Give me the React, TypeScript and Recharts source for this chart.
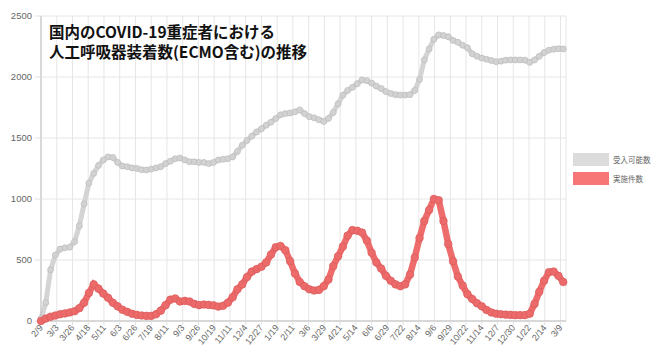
import React from 'react'
import { LineChart, Line, XAxis, YAxis, CartesianGrid } from 'recharts'

// x-axis tick labels, one every 23 days starting 2020/2/9
const TICK_LABELS = [
  '2/9', '3/3', '3/26', '4/18', '5/11', '6/3', '6/26', '7/19', '8/11', '9/3', '9/26', '10/19',
  '11/11', '12/4', '12/27', '1/19', '2/11', '3/6', '3/29', '4/21', '5/14', '6/6', '6/29', '7/22',
  '8/14', '9/6', '9/29', '10/22', '11/14', '12/7', '12/30', '1/22', '2/14', '3/9',
]
const TICK_STEP_DAYS = 23
const SAMPLE_STEP_DAYS = 7
const LAST_DAY = 767

const SERIES_NAMES = ['受入可能数', '実施件数']
const Y_TICKS = [0, 500, 1000, 1500, 2000, 2500]

// weekly readings
const capacity = [
  20, 150, 420, 540, 590, 600, 605, 650, 780, 960,
  1130, 1210, 1275, 1320, 1345, 1340, 1300, 1270, 1265, 1255,
  1250, 1240, 1238, 1245, 1255, 1265, 1290, 1310, 1330, 1336,
  1320, 1305, 1305, 1300, 1300, 1290, 1300, 1320, 1325, 1330,
  1345, 1390, 1440, 1480, 1515, 1550, 1575, 1605, 1630, 1660,
  1690, 1700, 1705, 1715, 1730, 1700, 1675, 1665, 1650, 1635,
  1660, 1710, 1780, 1850, 1890, 1915, 1945, 1975, 1970, 1950,
  1925, 1905, 1880, 1865, 1855, 1852, 1852, 1855, 1890, 1980,
  2140, 2230, 2310, 2345, 2340, 2330, 2300, 2285, 2260, 2240,
  2190, 2170, 2155, 2145, 2135, 2125, 2130, 2138, 2140, 2140,
  2140, 2138, 2120, 2140, 2170, 2200, 2220, 2228, 2232, 2230,
]
const performed = [
  0, 20, 35, 45, 55, 62, 70, 80, 105, 150,
  230, 300, 265, 225, 190, 150, 120, 92, 75, 60,
  50, 45, 42, 42, 55, 85, 130, 175, 185, 160,
  165, 160, 140, 130, 135, 132, 128, 118, 125, 150,
  195, 260, 300, 360, 405, 425, 445, 480, 545, 605,
  615, 580, 490, 390, 320, 285, 260, 250, 255, 285,
  340, 450, 530, 610, 700, 745, 740, 725, 660, 560,
  480, 430, 370, 330, 300, 285, 300, 380, 520, 680,
  820, 910, 1000, 990, 820, 630, 490, 365, 290, 220,
  180, 145, 120, 90, 70, 60, 55, 52, 50, 48,
  48, 48, 60, 140, 240, 330, 400, 405, 370, 320,
]

const data = capacity.map((v, i) => ({
  day: i * SAMPLE_STEP_DAYS,
  capacity: v,
  performed: performed[i],
}))
const xTicks = TICK_LABELS.map((_, i) => i * TICK_STEP_DAYS)

const LEGEND_ITEMS = [
  { name: SERIES_NAMES[0], color: '#dcdcdc' },
  { name: SERIES_NAMES[1], color: '#f77676' },
]

function DateTick(props: any) {
  const { x, y, payload } = props
  const label = TICK_LABELS[Math.round(payload.value / TICK_STEP_DAYS)]
  return (
    <text
      x={x}
      y={y}
      transform={`rotate(-50 ${x} ${y})`}
      textAnchor="end"
      dy="0.35em"
      fontSize={9}
      fill="#666"
      fontFamily="'Liberation Sans', Arial, sans-serif"
    >
      {label}
    </text>
  )
}

export default function App() {
  return (
    <div style={{ position: 'absolute', left: 0, top: 0, width: 670, height: 359, background: '#fff' }}>
      <LineChart width={670} height={359} data={data} margin={{ top: 16, right: 104, left: 0, bottom: 0 }}>
        <CartesianGrid stroke="#e6e6e6" />
        <XAxis
          dataKey="day"
          type="number"
          domain={[0, LAST_DAY]}
          ticks={xTicks}
          interval={0}
          height={38}
          tick={<DateTick />}
          tickSize={4}
          tickMargin={1}
          stroke="#bdbdbd"
          tickLine={{ stroke: '#e0e0e0' }}
        />
        <YAxis
          domain={[0, 2500]}
          ticks={Y_TICKS}
          width={41}
          tickSize={6}
          tickMargin={3}
          stroke="#bdbdbd"
          tickLine={{ stroke: '#e0e0e0' }}
          tick={{ fill: '#666', fontSize: 9.5, fontFamily: "'Liberation Sans', Arial, sans-serif" }}
        />
        <Line
          name={SERIES_NAMES[0]}
          dataKey="capacity"
          stroke="#d4d4d4"
          strokeWidth={5}
          dot={{ r: 3, fill: '#d2d2d2', stroke: '#bcbcbc', strokeWidth: 0.7 }}
          isAnimationActive={false}
        />
        <Line
          name={SERIES_NAMES[1]}
          dataKey="performed"
          stroke="#ee6c6c"
          strokeWidth={6.5}
          dot={{ r: 3.8, fill: '#ec6a6a', stroke: '#da5b5b', strokeWidth: 0.7 }}
          isAnimationActive={false}
        />
      </LineChart>

      {/* legend */}
      <div style={{ position: 'absolute', left: 573, top: 153, display: 'flex', flexDirection: 'column', gap: '6px' }}>
        {LEGEND_ITEMS.map((it) => (
          <div key={it.name} style={{ display: 'flex', alignItems: 'center', gap: '4px', height: '13px' }}>
            <div style={{ width: '36px', height: '13px', background: it.color }} />
            <span style={{ fontSize: '7.5px', color: '#666', fontFamily: "'Noto Sans CJK JP', sans-serif" }}>
              {it.name}
            </span>
          </div>
        ))}
      </div>

      {/* title */}
      <div
        style={{
          position: 'absolute',
          left: 49,
          top: 21,
          fontFamily: "'Noto Sans CJK JP', sans-serif",
          fontWeight: 700,
          fontSize: '15.5px',
          lineHeight: '20px',
          color: '#111',
          whiteSpace: 'nowrap',
        }}
      >
        <div>国内のCOVID-19重症者における</div>
        <div>人工呼吸器装着数(ECMO含む)の推移</div>
      </div>
    </div>
  )
}
